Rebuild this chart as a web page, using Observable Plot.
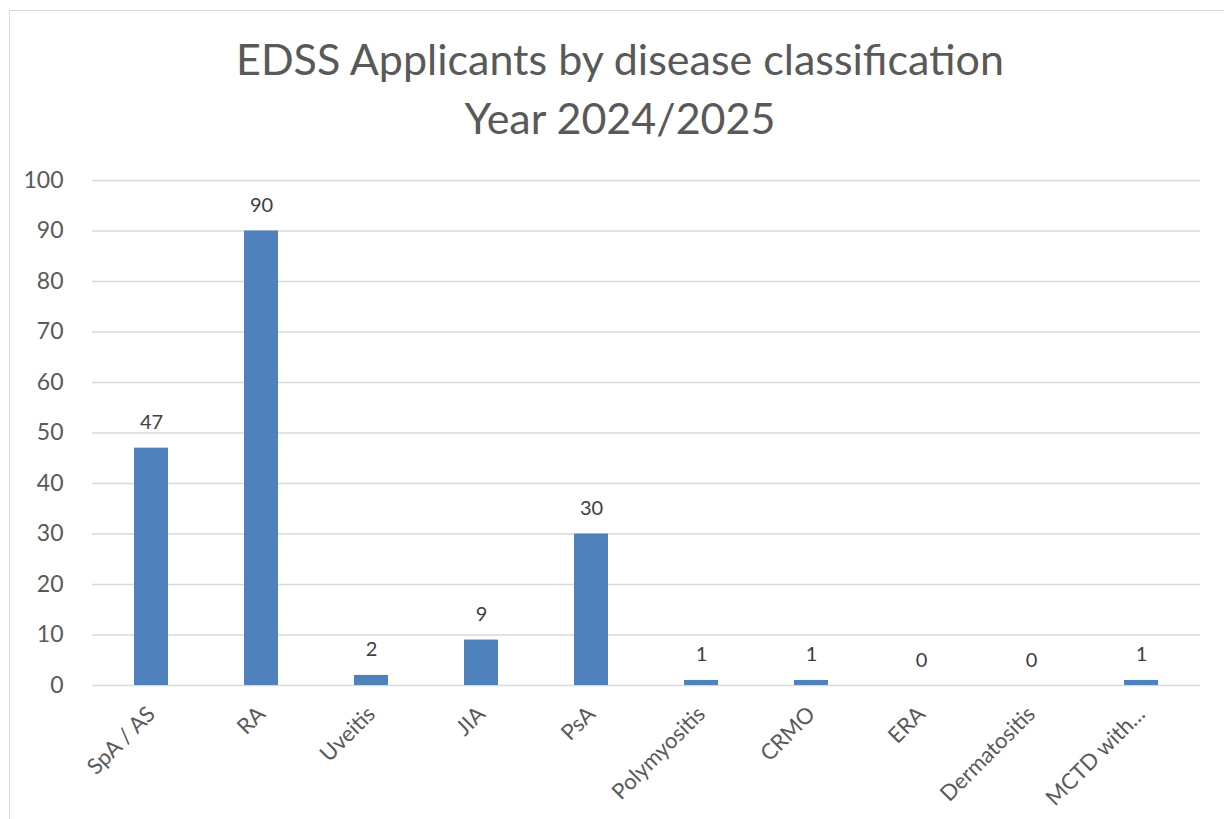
<!DOCTYPE html>
<html>
<head>
<meta charset="utf-8">
<script src="https://cdn.jsdelivr.net/npm/d3@7"></script>
<script src="https://cdn.jsdelivr.net/npm/@observablehq/plot@0.6"></script>
<style>
  html, body { margin: 0; padding: 0; background: #fff; }
  body { width: 1224px; height: 819px; overflow: hidden; position: relative; font-family: Lato, "Open Sans", sans-serif; }
  #frame { position: absolute; left: 9px; top: 10px; width: 1300px; height: 900px; border-left: 1.5px solid #d9d9d9; border-top: 1.5px solid #d9d9d9; }
  #title { position: absolute; left: 0; width: 1240px; top: 29px; text-align: center; color: #595959; font-size: 43px; line-height: 59px; font-weight: 400; }
  #chart { position: absolute; left: 0; top: 150px; }
</style>
</head>
<body>
<div id="frame"></div>
<div id="title">EDSS Applicants by disease classification<br>Year 2024/2025</div>
<div id="chart"></div>
<script>
const categories = ["SpA / AS", "RA", "Uveitis", "JIA", "PsA", "Polymyositis", "CRMO", "ERA", "Dermatositis", "MCTD with…"];
const values = [47, 90, 2, 9, 30, 1, 1, 0, 0, 1];
const yTicks = [0, 10, 20, 30, 40, 50, 60, 70, 80, 90, 100];

const data = categories.map((c, i) => ({category: c, value: values[i]}));

const chart = Plot.plot({
  width: 1224,
  height: 669,
  marginLeft: 92,
  marginRight: 24,
  marginTop: 30,
  marginBottom: 134,
  style: {fontFamily: "Lato, 'Open Sans', sans-serif", fontSize: "21px", color: "#595959", background: "transparent"},
  x: {domain: categories, paddingInner: 0.69, paddingOuter: 0.345, align: 0.5},
  y: {domain: [0, 100], ticks: yTicks},
  marks: [
    Plot.ruleY(yTicks, {stroke: "#d9d9d9", strokeWidth: 1.5}),
    Plot.barY(data, {x: "category", y: "value", fill: "#4f81bd"}),
    Plot.text(data, {x: "category", y: "value", text: d => String(d.value), lineAnchor: "bottom", dy: -19, fill: "#404040", fontSize: 20}),
    Plot.axisY({ticks: yTicks, tickSize: 0, tickPadding: 29, label: null, fontSize: 23, fill: "#595959"}),
    Plot.axisX({tickSize: 0, tickPadding: 25, tickRotate: -45, label: null, fontSize: 22, fill: "#595959"})
  ]
});
document.getElementById("chart").appendChild(chart);
</script>
</body>
</html>
